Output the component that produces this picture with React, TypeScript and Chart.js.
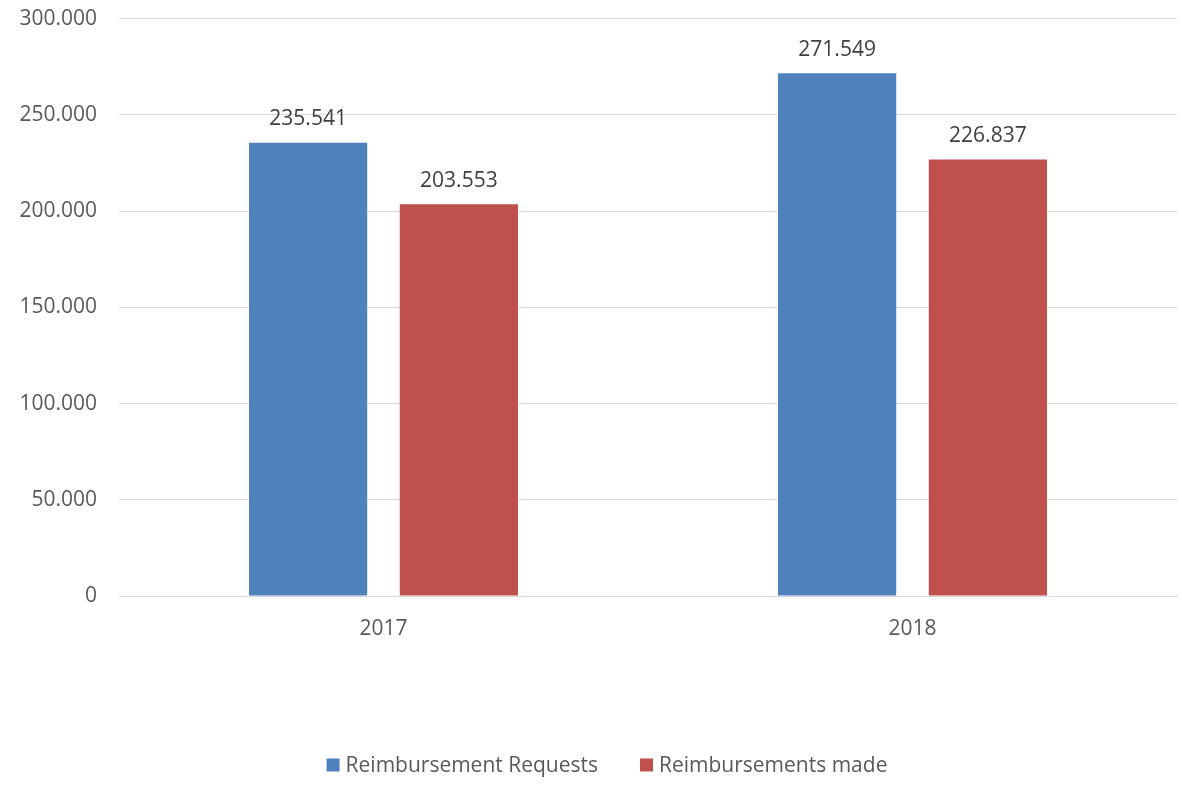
import React, { useEffect, useRef } from "react";
import { Chart, registerables } from "chart.js";

Chart.register(...registerables);

const categories = ["2017", "2018"];
const requests = [235541, 271549];
const made = [203553, 226837];
const seriesNames = ["Reimbursement Requests", "Reimbursements made"];
const seriesColors = ["#4F81BD", "#C0504D"];

const FONT = "'Open Sans', 'DejaVu Sans', sans-serif";
const SIZE = 21;
const fmt = (v: number) => {
  if (v === 0) return "0";
  return (v / 1000).toFixed(3);
};

const labelPlugin = {
  id: "barLabels",
  afterDatasetsDraw(chart: any) {
    const ctx = chart.ctx;
    ctx.save();
    ctx.font = `${SIZE}px ${FONT}`;
    ctx.fillStyle = "#404040";
    ctx.textAlign = "center";
    ctx.textBaseline = "bottom";
    chart.data.datasets.forEach((ds: any, i: number) => {
      const meta = chart.getDatasetMeta(i);
      meta.data.forEach((bar: any, j: number) => {
        ctx.fillText(fmt(ds.data[j]), bar.x, bar.y - 13);
      });
    });
    ctx.restore();
  },
};

const legendPlugin = {
  id: "bottomLegend",
  afterDraw(chart: any) {
    const ctx = chart.ctx;
    ctx.save();
    ctx.font = `${SIZE}px ${FONT}`;
    ctx.textBaseline = "middle";
    ctx.textAlign = "left";
    const box = 13;
    const boxGap = 6;
    const itemGap = 42;
    const items = chart.data.datasets.map((ds: any) => ({
      text: ds.label,
      color: ds.backgroundColor,
      w: ctx.measureText(ds.label).width,
    }));
    const total = items.reduce((s: number, it: any) => s + box + boxGap + it.w, 0) + itemGap * (items.length - 1);
    let x = 607 - total / 2;
    const cy = 765;
    items.forEach((it: any) => {
      ctx.fillStyle = it.color;
      ctx.fillRect(x, cy - box / 2, box, box);
      x += box + boxGap;
      ctx.fillStyle = "#595959";
      ctx.fillText(it.text, x, cy + 1);
      x += it.w + itemGap;
    });
    ctx.restore();
  },
};

export default function App() {
  const ref = useRef<HTMLCanvasElement>(null);
  useEffect(() => {
    const chart = new Chart(ref.current!, {
      type: "bar",
      data: {
        labels: categories,
        datasets: [
          { label: seriesNames[0], data: requests, backgroundColor: seriesColors[0] },
          { label: seriesNames[1], data: made, backgroundColor: seriesColors[1] },
        ],
      },
      options: {
        animation: false,
        responsive: false,
        maintainAspectRatio: false,
        layout: { padding: { top: 0, right: 5, left: 0, bottom: 0 } },
        datasets: { bar: { categoryPercentage: 0.57, barPercentage: 0.784 } },
        scales: {
          x: {
            grid: { display: false },
            border: { color: "#D9D9D9", width: 1 },
            ticks: { color: "#595959", font: { family: FONT, size: SIZE }, padding: 12 },
            afterFit: (s: any) => { s.height = 190; },
          },
          y: {
            min: 0,
            max: 300000,
            grid: { color: "#D9D9D9", lineWidth: 1, drawTicks: true, tickLength: 16, tickColor: "rgba(0,0,0,0)" },
            border: { display: false },
            ticks: {
              stepSize: 50000,
              color: "#595959",
              font: { family: FONT, size: SIZE },
              padding: 6,
              callback: (v: any) => fmt(Number(v)),
            },
            afterFit: (s: any) => { s.width = 119; },
          },
        },
        plugins: {
          legend: { display: false },
          tooltip: { enabled: false },
        },
      },
      plugins: [labelPlugin, legendPlugin],
    });
    return () => chart.destroy();
  }, []);
  return (
    <div style={{ position: "fixed", left: 0, top: 0, width: 1182, height: 786, background: "#fff" }}>
      <canvas ref={ref} width={1182} height={786} />
    </div>
  );
}
